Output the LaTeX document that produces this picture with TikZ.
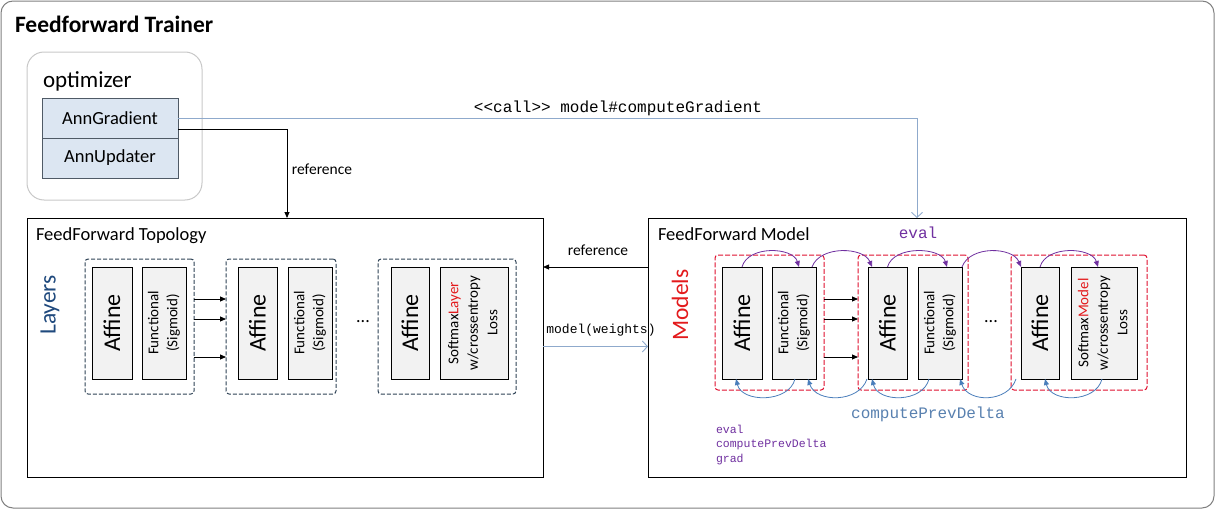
\documentclass[tikz,border=0pt]{standalone}
\usepackage{fontspec}
\setmainfont{Carlito}
\newfontfamily\monofont{Liberation Mono}
\usetikzlibrary{arrows.meta,calc}
\definecolor{boxgray}{HTML}{F2F2F2}
\definecolor{optblue}{HTML}{DCE6F2}
\definecolor{optedge}{HTML}{4F5A66}
\definecolor{frame}{HTML}{808080}
\definecolor{optframe}{HTML}{C8C8C8}
\definecolor{layerdash}{HTML}{2F4356}
\definecolor{modeldash}{HTML}{E0102F}
\definecolor{layerblue}{HTML}{1F497D}
\definecolor{modelred}{HTML}{E31A1C}
\definecolor{evalpurple}{HTML}{7030A0}
\definecolor{deltablue}{HTML}{4A7EBB}
\definecolor{deltatext}{HTML}{5981B0}
\definecolor{callblue}{HTML}{8FAACC}
\begin{document}
\begin{tikzpicture}[x=1pt,y=-1pt,
  every node/.style={inner sep=0pt, outer sep=0pt},
  bigbox/.style={draw=black, fill=white, line width=0.9pt, anchor=north west, minimum height=259pt},
  cellbox/.style={draw=black, fill=boxgray, line width=0.8pt, anchor=north west, minimum height=112pt},
  optcell/.style={draw=optedge, fill=optblue, line width=0.8pt, anchor=north west, minimum width=136pt, minimum height=40pt, font=\fontsize{18.5}{22}\selectfont},
  lgroup/.style={draw=layerdash, line width=1pt, dash pattern=on 4pt off 2pt, rounded corners=3pt, anchor=north west, minimum height=135pt},
  mgroup/.style={draw=modeldash, line width=1pt, dash pattern=on 5pt off 2pt, rounded corners=3pt, anchor=north west, minimum height=135pt},
  blackarrow/.style={draw=black, line width=0.8pt, -{Triangle[length=6pt,width=5pt]}},
  bluearrow/.style={draw=callblue, line width=0.9pt, -{Straight Barb[length=5pt,width=11pt]}},
  evalarc/.style={draw=evalpurple, line width=0.8pt, -{Triangle[length=6pt,width=5pt]}},
  deltaarc/.style={draw=deltablue, line width=0.8pt, -{Triangle[length=6pt,width=5pt]}},
  label/.style={font=\fontsize{15.5}{18}\selectfont},
  monolabel/.style={font=\monofont\fontsize{13}{15}\selectfont},
]
\useasboundingbox (0,0) rectangle (1224,522);

% outer frame
\node[draw=frame, line width=1pt, rounded corners=12pt, anchor=north west, minimum width=1213pt, minimum height=507pt] (trainer) at (1,1) {};
\node[anchor=base west, font=\bfseries\fontsize{23.5}{28}\selectfont] (title) at (15,32) {Feedforward Trainer};

% optimizer
\node[draw=optframe, line width=1pt, rounded corners=17pt, anchor=north west, minimum width=175pt, minimum height=148pt] (opt) at (27,52) {};
\node[anchor=base west, font=\fontsize{23}{27}\selectfont] (opttitle) at (43,87) {optimizer};
\node[optcell] (ag) at (42,98) {AnnGradient};
\node[optcell] (au) at (42,138) {AnnUpdater};

% topology
\node[bigbox, minimum width=516pt] (topo) at (27,218) {};
\node[anchor=base west, font=\fontsize{18.5}{22}\selectfont] (topotitle) at (36,240) {FeedForward Topology};
\node[rotate=90, font=\fontsize{23.5}{28}\selectfont, text=layerblue] (layers) at (50,305) {Layers};

\node[lgroup, minimum width=109pt] (g1) at (85,259) {};
\node[lgroup, minimum width=110pt] (g2) at (226,259) {};
\node[lgroup, minimum width=138pt] (g3) at (378,259) {};

\node[cellbox, minimum width=40pt] (la1) at (92,267) {\rotatebox{90}{\fontsize{24}{28}\selectfont Affine}};
\node[cellbox, minimum width=44pt] (lf1) at (142,267) {\rotatebox{90}{\fontsize{15}{19}\selectfont\begin{tabular}{@{}c@{}}Functional\\(Sigmoid)\end{tabular}}};
\node[cellbox, minimum width=39pt] (la2) at (238,267) {\rotatebox{90}{\fontsize{24}{28}\selectfont Affine}};
\node[cellbox, minimum width=44pt] (lf2) at (288,267) {\rotatebox{90}{\fontsize{15}{19}\selectfont\begin{tabular}{@{}c@{}}Functional\\(Sigmoid)\end{tabular}}};
\node[cellbox, minimum width=38pt] (la3) at (391,267) {\rotatebox{90}{\fontsize{24}{28}\selectfont Affine}};
\node[cellbox, minimum width=68pt] (ls) at (440,267) {\rotatebox{90}{\fontsize{15}{19.5}\selectfont\begin{tabular}{@{}c@{}}Softmax\textcolor{modelred}{Layer}\\w/crossentropy\\Loss\end{tabular}}};
\node[font=\fontsize{18}{20}\selectfont] (ldots) at (363,322) {...};

\draw[blackarrow] ([yshift=27.5pt]g1.east) -- ([yshift=27.5pt]g2.west);
\draw[blackarrow] ([yshift=7.5pt]g1.east) -- ([yshift=7.5pt]g2.west);
\draw[blackarrow] ([yshift=-30.5pt]g1.east) -- ([yshift=-30.5pt]g2.west);

% model
\node[bigbox, minimum width=538pt] (model) at (648,218) {};
\node[anchor=base west, font=\fontsize{18.5}{22}\selectfont] (modeltitle) at (658,240) {FeedForward Model};
\node[rotate=90, font=\fontsize{23.5}{28}\selectfont, text=modelred] (models) at (680,305) {Models};

\node[mgroup, minimum width=109pt] (rg1) at (715,255) {};
\node[mgroup, minimum width=110pt] (rg2) at (858,255) {};
\node[mgroup, minimum width=136pt] (rg3) at (1011,255) {};

\node[cellbox, minimum width=40pt] (ma1) at (722,267) {\rotatebox{90}{\fontsize{24}{28}\selectfont Affine}};
\node[cellbox, minimum width=44pt] (mf1) at (772,267) {\rotatebox{90}{\fontsize{15}{19}\selectfont\begin{tabular}{@{}c@{}}Functional\\(Sigmoid)\end{tabular}}};
\node[cellbox, minimum width=39pt] (ma2) at (868,267) {\rotatebox{90}{\fontsize{24}{28}\selectfont Affine}};
\node[cellbox, minimum width=44pt] (mf2) at (918,267) {\rotatebox{90}{\fontsize{15}{19}\selectfont\begin{tabular}{@{}c@{}}Functional\\(Sigmoid)\end{tabular}}};
\node[cellbox, minimum width=38pt] (ma3) at (1021,267) {\rotatebox{90}{\fontsize{24}{28}\selectfont Affine}};
\node[cellbox, minimum width=66pt] (ms) at (1071,267) {\rotatebox{90}{\fontsize{15}{19.5}\selectfont\begin{tabular}{@{}c@{}}Softmax\textcolor{modelred}{Model}\\w/crossentropy\\Loss\end{tabular}}};
\node[font=\fontsize{18}{20}\selectfont] (mdots) at (991,322) {...};

\draw[blackarrow] ([yshift=23.5pt]rg1.east) -- ([yshift=23.5pt]rg2.west);
\draw[blackarrow] ([yshift=3.5pt]rg1.east) -- ([yshift=3.5pt]rg2.west);
\draw[blackarrow] ([yshift=-34.5pt]rg1.east) -- ([yshift=-34.5pt]rg2.west);

% eval arcs (purple)
\draw[evalarc] (ma1.north) .. controls +(6,-22) and +(-6,-20) .. ([xshift=5pt]mf1.north);
\draw[evalarc] ([xshift=-4pt]mf1.north east) .. controls +(8,-22) and +(-8,-20) .. ([xshift=4pt]ma2.north west);
\draw[evalarc] (ma2.north) .. controls +(6,-22) and +(-6,-20) .. ([xshift=7pt]mf2.north);
\draw[evalarc] (mf2.north east) .. controls +(8,-22) and +(-8,-20) .. ([xshift=0pt]ma3.north west);
\draw[evalarc] (ma3.north) .. controls +(6,-22) and +(-6,-20) .. ([xshift=-6pt]ms.north);

% computePrevDelta arcs (blue)
\draw[deltaarc] ([xshift=1pt]mf1.south) .. controls +(-6,24) and +(6,24) .. ([xshift=-6pt]ma1.south);
\draw[deltaarc] ([xshift=-1pt]ma2.south west) .. controls +(-8,24) and +(8,24) .. ([xshift=-8pt]mf1.south east);
\draw[deltaarc] ([xshift=-11pt]mf2.south) .. controls +(-6,24) and +(6,24) .. ([xshift=4pt]ma2.south west);
\draw[deltaarc] ([xshift=-5pt]ma3.south west) .. controls +(-8,24) and +(8,24) .. ([xshift=-2pt]mf2.south east);
\draw[deltaarc] ([xshift=-2pt]ms.south) .. controls +(-6,24) and +(6,24) .. ([xshift=5pt]ma3.south);

\node[font=\monofont\fontsize{16}{18}\selectfont, text=evalpurple] (evallabel) at (918,233) {eval};
\node[font=\monofont\fontsize{16}{18}\selectfont, text=deltatext] (deltalabel) at (928,414) {computePrevDelta};
\node[anchor=north west, align=left, font=\monofont\fontsize{11.5}{14.5}\selectfont, text=evalpurple] (methods) at (716,425) {eval\\computePrevDelta\\grad};

% connectors between blocks
\draw[bluearrow] (ag.east) -| (model.north);
\node[font=\monofont\fontsize{16}{18}\selectfont] (calllabel) at (618,108) {<{}<call>{}> model\#computeGradient};

\draw[blackarrow] ([yshift=-11pt]ag.east) -| ([xshift=2pt]topo.north);
\node[label] (ref1) at (322,169) {reference};

\draw[blackarrow] ([yshift=80.5pt]model.west) -- ([yshift=80.5pt]topo.east);
\node[label] (ref2) at (598,250) {reference};

\draw[bluearrow] ([yshift=1pt]topo.east) -- ([yshift=1pt]model.west);
\node[monolabel] (weights) at (601,330) {model(weights)};
\end{tikzpicture}
\end{document}
